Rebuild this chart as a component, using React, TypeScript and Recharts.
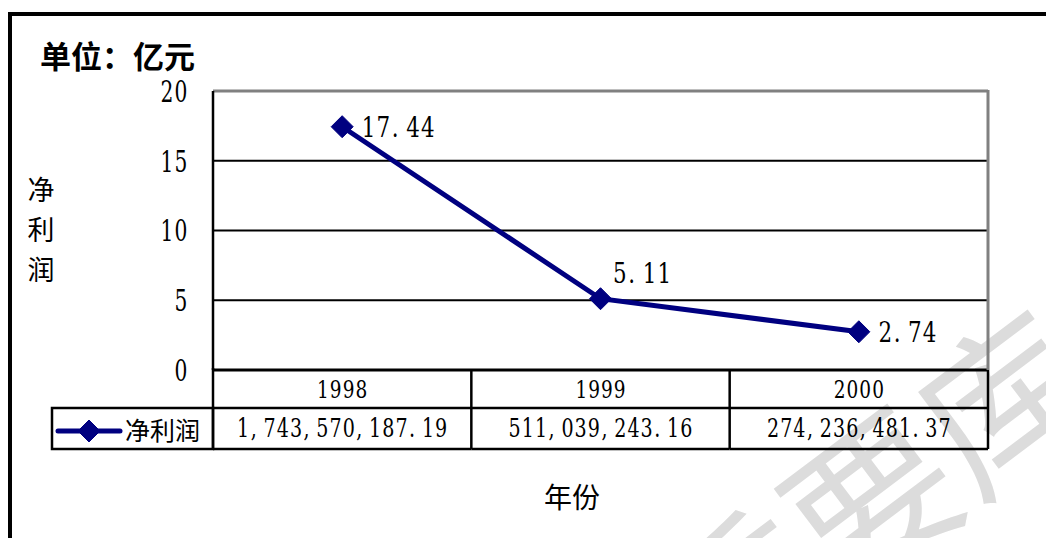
import React from 'react';
import { LineChart, Line, XAxis, YAxis, CartesianGrid, LabelList, ReferenceLine } from 'recharts';

// 净利润 (亿元) by year, plus the raw yuan figures shown in the data table
const years = ['1998', '1999', '2000'];
const profit = [17.44, 5.11, 2.74];
const profitRaw = ['1,743,570,187.19', '511,039,243.16', '274,236,481.37'];
const yTicks = [0, 5, 10, 15, 20];
const gridValues = [5, 10, 15];
const seriesName = '净利润';

const data = years.map((year, i) => ({ year, value: profit[i], raw: profitRaw[i] }));

const W = 1046;
const H = 538;
const PLOT_LEFT = 213;
const PLOT_RIGHT = 988;
const PLOT_TOP = 91;
const PLOT_BOTTOM = 370;
const HALF_BAND = (PLOT_RIGHT - PLOT_LEFT) / years.length / 2;
const ROW1 = 38;
const ROW2 = 79;
const LEGEND_LEFT = 52;

const NAVY = '#000080';
const SERIF = 'DejaVu Serif';
const CJK = 'Noto Sans CJK SC';

// SimSun-like half-width text: each character sits in a fixed cell,
// digits are condensed a little, punctuation sits at the left of its cell
const HalfText = ({ x, y, text, size, cell, anchor = 'middle' }: any) => {
  const total = text.length * cell;
  const start = anchor === 'end' ? x - total : anchor === 'middle' ? x - total / 2 : x;
  const sx = Math.min(1, (0.92 * cell) / (0.636 * size));
  const xs = text
    .split('')
    .map((ch: string, i: number) => {
      const c = /[0-9]/.test(ch) ? start + (i + 0.5) * cell : start + i * cell + cell * 0.3;
      return (c / sx).toFixed(2);
    })
    .join(' ');
  return (
    <text
      x={xs}
      y={y}
      fontFamily={SERIF}
      fontSize={size}
      textAnchor="middle"
      transform={`scale(${sx},1)`}
      fill="#000"
    >
      {text}
    </text>
  );
};

const Diamond = ({ cx, cy, r = 11 }: any) => (
  <path d={`M${cx},${cy - r} L${cx + r},${cy} L${cx},${cy + r} L${cx - r},${cy} Z`} fill={NAVY} stroke={NAVY} strokeWidth={1} />
);

const renderDot = (props: any) => <Diamond key={`dot-${props.index}`} cx={props.cx} cy={props.cy} />;

const YTick = (props: any) => {
  const { x, y, payload } = props;
  return <HalfText x={x} y={y + 11} text={String(payload.value)} size={29} cell={14} anchor="end" />;
};

// each category tick draws its own two table cells
const TableTick = (props: any) => {
  const { x, y, index } = props;
  const year = years[index];
  const raw = profitRaw[index];
  const left = x - HALF_BAND;
  const right = x + HALF_BAND;
  const last = index === years.length - 1;
  return (
    <g>
      <HalfText x={x} y={y + 28} text={year} size={25} cell={12.8} />
      <HalfText x={x} y={y + 67} text={raw} size={26} cell={13.2} />
      {last && (
        <line x1={right} y1={y - (PLOT_BOTTOM - PLOT_TOP) - 1} x2={right} y2={y} stroke="#808080" strokeWidth={3} />
      )}
      <line x1={right} y1={y} x2={right} y2={y + ROW2} stroke="#000" strokeWidth={2.5} />
      <line x1={left} y1={y + ROW1} x2={right} y2={y + ROW1} stroke="#000" strokeWidth={2.5} />
      <line x1={left} y1={y + ROW2} x2={right} y2={y + ROW2} stroke="#000" strokeWidth={2.5} />
      {index === 0 && (
        <g>
          <line x1={left} y1={y - 2} x2={left} y2={y + ROW2} stroke="#000" strokeWidth={2.5} />
          <rect x={LEGEND_LEFT} y={y + ROW1} width={left - LEGEND_LEFT} height={ROW2 - ROW1} fill="none" stroke="#000" strokeWidth={2.5} />
          <line x1={LEGEND_LEFT + 6} y1={y + 61} x2={LEGEND_LEFT + 68} y2={y + 61} stroke={NAVY} strokeWidth={5} strokeLinecap="round" />
          <Diamond cx={LEGEND_LEFT + 37} cy={y + 61} r={11} />
          <text x={LEGEND_LEFT + 73} y={y + 70} fontFamily={CJK} fontSize={25} fill="#000">
            {seriesName}
          </text>
        </g>
      )}
    </g>
  );
};

const renderLabel = (props: any) => {
  const { x, y, value, index } = props;
  const text = Number(value).toFixed(2);
  if (index === 1) {
    return (
      <g key={`lbl-${index}`}>
        <HalfText x={x + 12} y={y - 16} text={text} size={28} cell={14.8} anchor="start" />
      </g>
    );
  }
  return (
    <g key={`lbl-${index}`}>
      <HalfText x={x + 19} y={y + 10} text={text} size={28} cell={14.8} anchor="start" />
    </g>
  );
};

export default function App() {
  return (
    <div style={{ position: 'absolute', left: 0, top: 0, width: W, height: H, background: '#fff', overflow: 'hidden' }}>
      <svg width={W} height={H} style={{ position: 'absolute', left: 0, top: 0 }}>
        <text x={712} y={700} fontFamily={CJK} fontSize={165} fill="#dcdcdc" transform="rotate(-37 712 700)">
          重要库
        </text>
      </svg>
      <div style={{ position: 'absolute', left: 0, top: 0 }}>
        <LineChart
          width={W}
          height={H}
          data={data}
          margin={{ top: PLOT_TOP, right: W - PLOT_RIGHT, bottom: H - PLOT_BOTTOM - ROW2 - 10, left: PLOT_LEFT - 60 }}
        >
          <CartesianGrid vertical={false} horizontalValues={gridValues} stroke="#000" strokeWidth={2} />
          <ReferenceLine y={20} stroke="#808080" strokeWidth={3} />
          <XAxis
            dataKey="year"
            axisLine={{ stroke: '#000', strokeWidth: 3 }}
            tickLine={false}
            tickSize={0}
            tickMargin={0}
            tick={<TableTick />}
            height={ROW2 + 10}
            interval={0}
            padding={{ left: HALF_BAND, right: HALF_BAND }}
          />
          <YAxis
            domain={[0, 20]}
            ticks={yTicks}
            width={60}
            axisLine={{ stroke: '#000', strokeWidth: 2.5 }}
            tickLine={false}
            tickSize={0}
            tickMargin={25}
            tick={<YTick />}
          />
          <Line
            dataKey="value"
            name={seriesName}
            stroke={NAVY}
            strokeWidth={5}
            dot={renderDot}
            activeDot={false}
            isAnimationActive={false}
          >
            <LabelList dataKey="value" content={renderLabel} />
          </Line>
        </LineChart>
      </div>
      <svg width={W} height={H} style={{ position: 'absolute', left: 0, top: 0, pointerEvents: 'none' }}>
        <path d={`M10,${H + 5} L10,14 L${W + 5},14`} fill="none" stroke="#000" strokeWidth={4} />
        <text x={40} y={68} fontFamily={CJK} fontSize={31} fontWeight={700} fill="#000">
          单位：亿元
        </text>
        {seriesName.split('').map((ch, i) => (
          <text key={ch} x={41} y={200 + i * 40} fontFamily={CJK} fontSize={27} textAnchor="middle" fill="#000">
            {ch}
          </text>
        ))}
        <text x={572} y={508} fontFamily={CJK} fontSize={28} textAnchor="middle" fill="#000">
          年份
        </text>
      </svg>
    </div>
  );
}
